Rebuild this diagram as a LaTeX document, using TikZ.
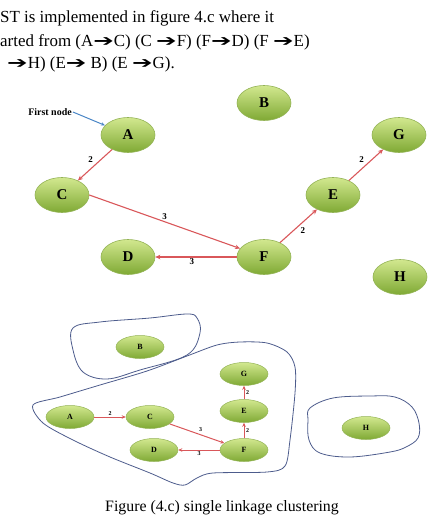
\documentclass[tikz,border=0pt]{standalone}
\usepackage{fontspec}
\usepackage{graphicx}
\setmainfont{Liberation Serif}
\newfontfamily\arrowfont{DejaVu Sans}
\usetikzlibrary{arrows.meta,shapes.geometric}
\definecolor{nodetop}{HTML}{D2E88F}
\definecolor{nodebot}{HTML}{7FA934}
\definecolor{nodeline}{HTML}{93B355}
\definecolor{edgered}{HTML}{D9575A}
\definecolor{blobline}{HTML}{4D5C8C}
\definecolor{firstblue}{HTML}{4A86C6}
\newcommand{\rarr}{\scalebox{1.45}[0.95]{\arrowfont ➔}}
\begin{document}
\begin{tikzpicture}[x=1bp,y=-1bp,
  bignode/.style={ellipse, draw=nodeline, line width=0.6bp, top color=nodetop, bottom color=nodebot,
    minimum width=54bp, minimum height=35bp, inner sep=0pt, font=\fontsize{15}{15}\selectfont\bfseries},
  smallnode/.style={ellipse, draw=nodeline, line width=0.5bp, top color=nodetop, bottom color=nodebot,
    minimum width=48bp, minimum height=23bp, inner sep=0pt, font=\fontsize{8}{8}\selectfont\bfseries},
  redge/.style={draw=edgered, line width=1.1bp, -{Stealth[length=5bp,width=4.5bp]}},
  sredge/.style={draw=edgered, line width=1bp, -{Stealth[length=4bp,width=3.5bp]}},
  wlab/.style={font=\fontsize{9}{9}\selectfont\bfseries, inner sep=1.5bp},
  swlab/.style={font=\fontsize{6}{6}\selectfont\bfseries, inner sep=1.5bp},
  blob/.style={draw=blobline, line width=0.8bp},
  toptext/.style={anchor=base west, inner sep=0pt, font=\fontsize{17}{17}\selectfont}]
\useasboundingbox (0,0) rectangle (433,519);

% heading text
\node[toptext] (t1) at (0,22.5) {ST is implemented in figure 4.c where it};
\node[toptext] (t2) at (0,46.5) {arted from (A\rarr C) (C \rarr F) (F\rarr D) (F \rarr E)};
\node[toptext] (t3) at (7,68.5) {\rarr H) (E\rarr\ B) (E \rarr G).};

% upper graph
\node[bignode] (A) at (128,135) {A};
\node[bignode] (B) at (264,103) {B};
\node[bignode] (C) at (62,195) {C};
\node[bignode] (D) at (128,257) {D};
\node[bignode] (E) at (333,195) {E};
\node[bignode] (F) at (264,257) {F};
\node[bignode] (G) at (399,135) {G};
\node[bignode] (H) at (400,277) {H};

\node[font=\fontsize{10}{10}\selectfont\bfseries, inner sep=1pt] (fn) at (50,112) {First node};
\draw[firstblue, line width=1bp, -{Stealth[length=4bp,width=3.5bp]}] (fn.east) -- (A);

\draw[redge] (A) -- node[wlab, midway, above left=0pt] {2} (C);
\draw[redge] (C.east) -- node[wlab, midway, above] {3} (F);
\draw[redge] (F.west) -- node[wlab, pos=0.55, below] {3} (D.east);
\draw[redge] (F) -- node[wlab, midway, below right=0pt] {2} (E);
\draw[redge] (E) -- node[wlab, midway, above left=0pt] {2} (G);

% lower clustering
\draw[blob] plot[smooth cycle, tension=0.6] coordinates {(73,328) (100,322) (150,318) (187,314) (197,318) (200,333) (187,355) (140,370) (107,379) (83,372) (73,350)};
\draw[blob] plot[smooth cycle, tension=0.5] coordinates {(33,405) (60,397) (100,385) (147,371) (187,356) (217,345) (240,342) (267,343) (287,352) (295,367) (295,393) (290,440) (285,466) (267,472) (213,473) (197,478) (185,485) (173,483) (150,473) (110,457) (73,440) (43,423)};
\draw[blob] plot[smooth cycle, tension=0.6] coordinates {(310,408) (333,398) (370,396) (395,397) (412,407) (419,423) (418,438) (406,447) (390,452) (350,457) (320,453) (309,440) (308,420)};

\node[smallnode] (b2) at (140,347) {B};
\node[smallnode] (g2) at (244,374) {G};
\node[smallnode] (e2) at (244,411) {E};
\node[smallnode] (a2) at (70,417) {A};
\node[smallnode] (c2) at (150,417) {C};
\node[smallnode] (d2) at (154,450) {D};
\node[smallnode] (f2) at (244,450) {F};
\node[smallnode] (h2) at (366,428) {H};

\draw[sredge] (a2.east) -- node[swlab, midway, above] {2} (c2.west);
\draw[sredge] (c2) -- node[swlab, midway, above right=0pt] {3} (f2);
\draw[sredge] (f2.west) -- node[swlab, midway, below] {3} (d2.east);
\draw[sredge] (f2.north) -- node[swlab, midway, right] {2} (e2.south);
\draw[sredge] (e2.north) -- node[swlab, midway, right] {2} (g2.south);

\node[inner sep=0pt, anchor=base, font=\fontsize{15.9}{15.9}\selectfont] (cap) at (222,511) {Figure (4.c) single linkage clustering};
\end{tikzpicture}
\end{document}
